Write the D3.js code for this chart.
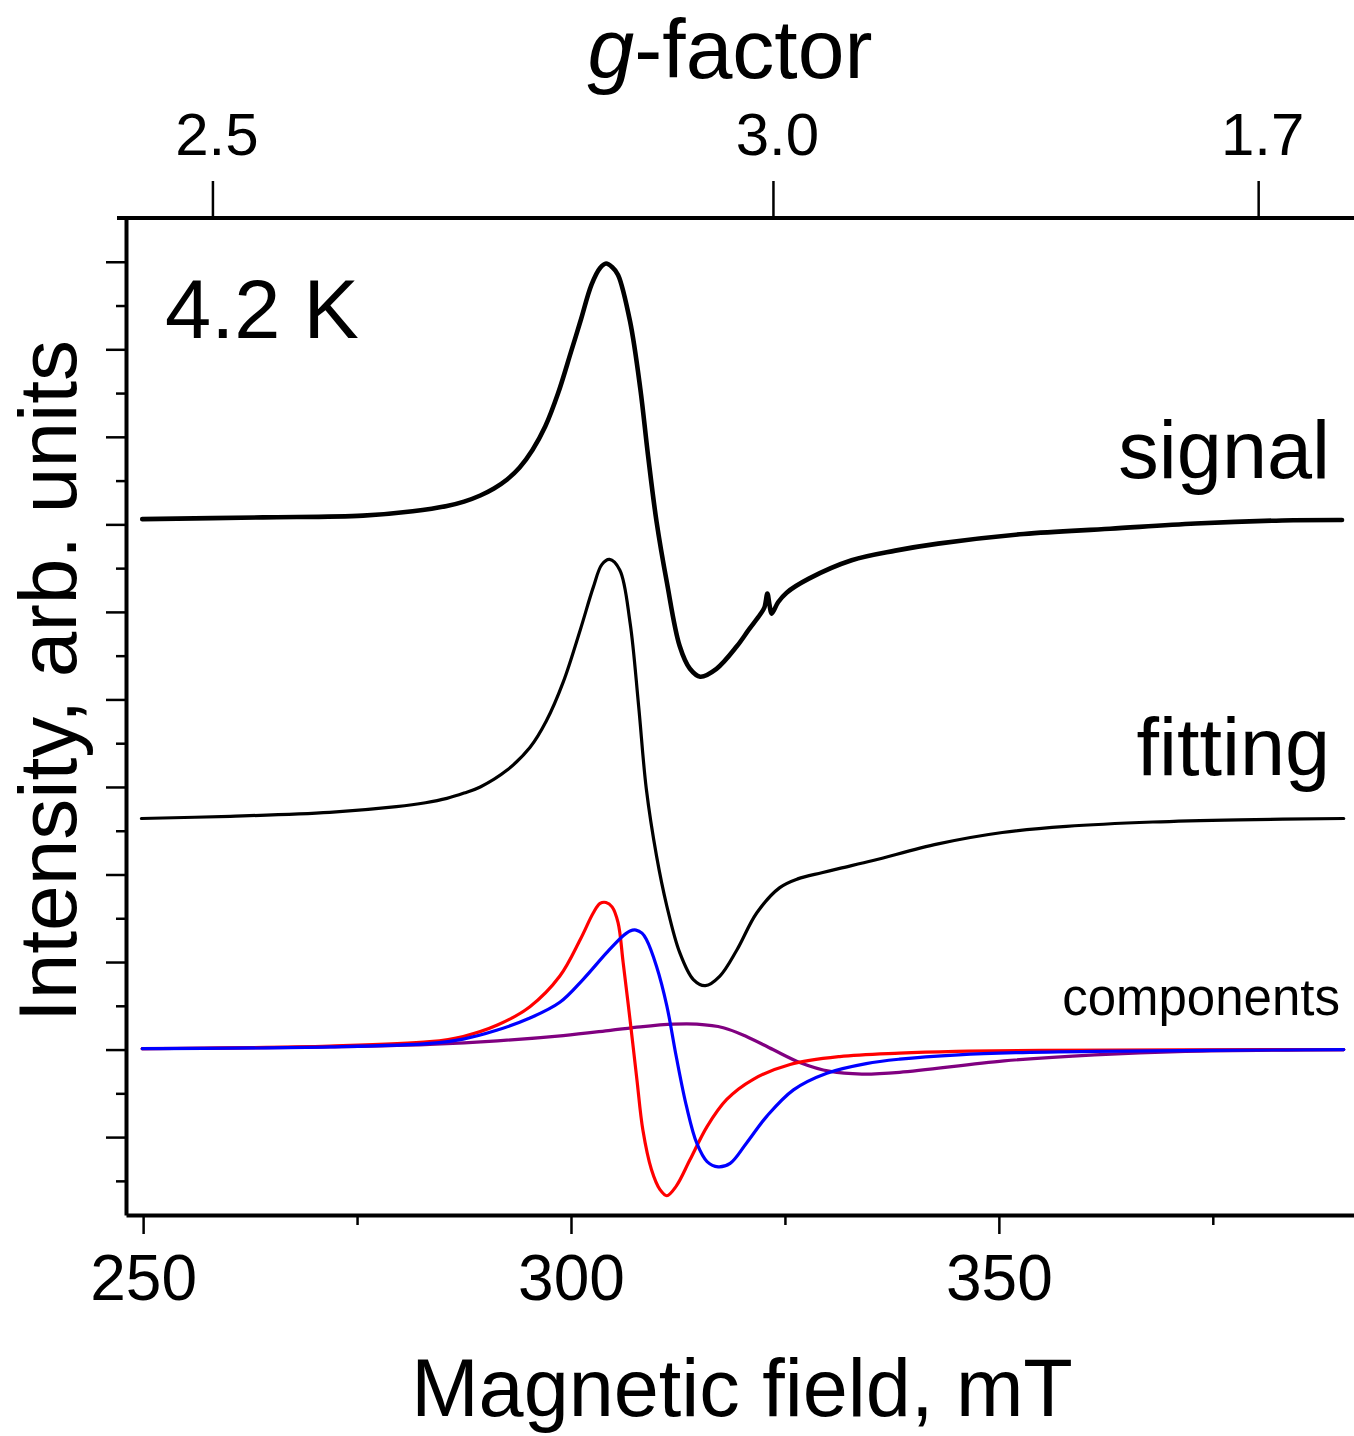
<!DOCTYPE html>
<html>
<head>
<meta charset="utf-8">
<script src="https://cdn.jsdelivr.net/npm/d3@7"></script>
<style>
  html, body { margin: 0; padding: 0; background: #fff; }
  svg { display: block; font-family: "Liberation Sans", Arial, Helvetica, sans-serif; }
</style>
</head>
<body>
<svg id="chart" width="1354" height="1436"></svg>
<script>
// EPR spectrum at 4.2 K: measured signal, fit and its three components (field in mT, intensity in arb. units)
const signalField = [249.9, 264.0, 275.7, 281.5, 285.5, 287.5, 289.4, 291.0, 292.5, 294.0, 295.5, 297.0, 298.5, 300.0, 301.1, 302.4, 303.4, 304.1, 304.8, 305.5, 306.9, 308.1, 309.0, 310.0, 311.2, 312.7, 313.9, 315.1, 317.0, 319.4, 320.8, 322.1, 322.6, 322.95, 323.2, 323.45, 324.2, 325.2, 327.8, 332.8, 337.9, 342.9, 352.9, 363.0, 373.0, 383.1, 390.1];
const signalValues = [6.06, 6.08, 6.10, 6.15, 6.21, 6.26, 6.33, 6.41, 6.51, 6.65, 6.85, 7.12, 7.50, 7.97, 8.32, 8.74, 8.93, 8.98, 8.94, 8.85, 8.32, 7.55, 6.79, 6.03, 5.34, 4.61, 4.35, 4.26, 4.35, 4.61, 4.80, 4.97, 5.05, 5.21, 5.08, 4.98, 5.11, 5.22, 5.38, 5.59, 5.70, 5.78, 5.89, 5.95, 6.01, 6.045, 6.05];

const fitField = [249.8, 260.2, 271.8, 279.6, 283.0, 285.5, 287.5, 289.4, 292.5, 295.2, 297.1, 299.1, 301.1, 302.6, 303.6, 304.5, 305.7, 306.9, 307.9, 308.8, 310.0, 311.2, 312.7, 314.3, 315.7, 317.4, 319.4, 321.7, 324.4, 326.5, 329.3, 331.4, 335.3, 342.9, 350.4, 357.9, 368.0, 378.0, 390.3];
const fitValues = [2.64, 2.665, 2.71, 2.775, 2.82, 2.87, 2.93, 3.00, 3.19, 3.45, 3.75, 4.20, 4.80, 5.28, 5.54, 5.60, 5.48, 4.88, 3.93, 2.98, 2.21, 1.64, 1.11, 0.80, 0.73, 0.84, 1.14, 1.56, 1.85, 1.95, 2.02, 2.07, 2.16, 2.35, 2.48, 2.55, 2.60, 2.625, 2.64];

const redField = [249.9, 271.8, 283.5, 287.4, 291.4, 295.2, 298.7, 301.1, 302.6, 303.4, 304.1, 304.8, 305.5, 306.1, 306.9, 307.7, 308.4, 309.4, 310.4, 311.2, 312.3, 313.9, 315.9, 318.2, 321.3, 325.6, 331.4, 338.4, 345.0, 355.0, 390.3];
const redValues = [0.01, 0.04, 0.09, 0.15, 0.28, 0.49, 0.84, 1.26, 1.56, 1.67, 1.68, 1.63, 1.45, 0.99, 0.34, -0.34, -0.92, -1.37, -1.60, -1.67, -1.56, -1.26, -0.88, -0.57, -0.34, -0.17, -0.08, -0.04, -0.02, -0.008, 0.0];

const blueField = [249.9, 271.8, 283.5, 287.4, 291.3, 295.2, 298.7, 301.4, 304.2, 306.1, 306.9, 307.6, 308.3, 308.8, 310.0, 311.2, 312.3, 313.5, 314.7, 315.9, 317.2, 318.6, 320.5, 322.9, 326.0, 329.9, 334.5, 338.4, 345.3, 352.0, 361.2, 390.3];
const blueValues = [0.01, 0.03, 0.07, 0.12, 0.22, 0.36, 0.54, 0.80, 1.11, 1.30, 1.355, 1.365, 1.33, 1.26, 0.95, 0.50, -0.08, -0.65, -1.07, -1.28, -1.34, -1.30, -1.07, -0.76, -0.46, -0.27, -0.16, -0.11, -0.06, -0.035, -0.02, 0.0];

const purpleField = [249.9, 271.8, 283.5, 291.4, 299.1, 304.6, 308.1, 312.0, 314.7, 317.8, 320.5, 323.6, 326.8, 330.3, 334.0, 338.4, 350.6, 361.2, 371.8, 390.3];
const purpleValues = [0.01, 0.03, 0.06, 0.10, 0.16, 0.22, 0.26, 0.29, 0.29, 0.25, 0.15, 0.0, -0.15, -0.25, -0.28, -0.26, -0.13, -0.06, -0.02, 0.0];

// Axis ticks
const fieldTicks = [250, 300, 350];
const fieldMinorTicks = [275, 325, 375];
const gTickFields = [258.1, 323.6, 380.3];
const gTickLabels = ["2.5", "3.0", "1.7"];
const intensityMajor = d3.range(-1, 10, 1);
const intensityMinor = d3.range(-1.5, 9, 1);

const svg = d3.select("#chart");
const INK = "#000";

const x = d3.scaleLinear().domain([248.0, 391.5]).range([126, 1354]);
const y = d3.scaleLinear().domain([-1.89, 9.5]).range([1215, 218]);

const zip = (f, v) => f.map((d, i) => [d, v[i]]);
const line = d3.line().x(d => x(d[0])).y(d => y(d[1])).curve(d3.curveCatmullRom.alpha(0.5));

const plot = svg.append("g").attr("fill", "none").attr("stroke-linejoin", "round").attr("stroke-linecap", "round");

plot.append("path").datum(zip(purpleField, purpleValues)).attr("d", line)
  .attr("stroke", "#800080").attr("stroke-width", 3.2);
plot.append("path").datum(zip(redField, redValues)).attr("d", line)
  .attr("stroke", "#ff0000").attr("stroke-width", 3.2);
plot.append("path").datum(zip(blueField, blueValues)).attr("d", line)
  .attr("stroke", "#0000ff").attr("stroke-width", 3.2);
plot.append("path").datum(zip(fitField, fitValues)).attr("d", line)
  .attr("stroke", INK).attr("stroke-width", 3.2);
plot.append("path").datum(zip(signalField, signalValues)).attr("d", line)
  .attr("stroke", INK).attr("stroke-width", 4.6);

// Left axis: major and minor ticks, no labels
const leftMajor = svg.append("g").attr("transform", `translate(${x.range()[0]},0)`)
  .call(d3.axisLeft(y).tickValues(intensityMajor).tickSize(20).tickSizeOuter(0).tickFormat(""));
const leftMinor = svg.append("g").attr("transform", `translate(${x.range()[0]},0)`)
  .call(d3.axisLeft(y).tickValues(intensityMinor).tickSize(10).tickSizeOuter(0).tickFormat(""));
leftMinor.select(".domain").remove();

// Bottom axis: magnetic field
const bottomAxis = svg.append("g").attr("transform", `translate(0,${y.range()[0]})`)
  .call(d3.axisBottom(x).tickValues(fieldTicks).tickSize(19).tickPadding(21).tickSizeOuter(0).tickFormat(d3.format("d")));
const bottomMinor = svg.append("g").attr("transform", `translate(0,${y.range()[0]})`)
  .call(d3.axisBottom(x).tickValues(fieldMinorTicks).tickSize(10).tickSizeOuter(0).tickFormat(""));
bottomMinor.select(".domain").remove();

// Top axis: g-factor
const gAxis = svg.append("g").attr("transform", `translate(0,${y.range()[1]})`)
  .call(d3.axisTop(x).tickValues(gTickFields).tickSize(37).tickPadding(26).tickSizeOuter(0)
    .tickFormat((d, i) => gTickLabels[i]));
gAxis.select(".domain").remove();
gAxis.selectAll(".tick text").attr("dx", 4);
svg.append("line")
  .attr("x1", x.range()[0] - 9).attr("x2", x.range()[1])
  .attr("y1", y.range()[1]).attr("y2", y.range()[1])
  .attr("stroke", INK).attr("stroke-width", 4);

svg.selectAll(".domain").attr("stroke", INK).attr("stroke-width", 4);
svg.selectAll(".tick line").attr("stroke", INK).attr("stroke-width", 2.5);
bottomAxis.selectAll(".tick text").attr("font-size", 64).attr("fill", INK)
  .attr("font-family", "Liberation Sans, Arial, sans-serif");
gAxis.selectAll(".tick text").attr("font-size", 60).attr("fill", INK)
  .attr("font-family", "Liberation Sans, Arial, sans-serif");

// Titles and annotations
svg.append("text").attr("x", 742).attr("y", 1416).attr("text-anchor", "middle")
  .attr("font-size", 81).attr("fill", INK).text("Magnetic field, mT");

const gTitle = svg.append("text").attr("x", 730).attr("y", 78).attr("text-anchor", "middle")
  .attr("font-size", 84).attr("fill", INK);
gTitle.append("tspan").attr("font-style", "italic").text("g");
gTitle.append("tspan").text("-factor");

svg.append("text").attr("transform", "translate(76,681) rotate(-90)").attr("text-anchor", "middle")
  .attr("font-size", 82).attr("fill", INK).text("Intensity, arb. units");

svg.append("text").attr("x", 165).attr("y", 338).attr("font-size", 83).attr("fill", INK).text("4.2 K");
svg.append("text").attr("x", 1330).attr("y", 478).attr("text-anchor", "end")
  .attr("font-size", 81).attr("fill", INK).text("signal");
svg.append("text").attr("x", 1330).attr("y", 775).attr("text-anchor", "end")
  .attr("font-size", 81).attr("fill", INK).text("fitting");
svg.append("text").attr("x", 1340).attr("y", 1015).attr("text-anchor", "end")
  .attr("font-size", 51).attr("fill", INK).text("components");
</script>
</body>
</html>
